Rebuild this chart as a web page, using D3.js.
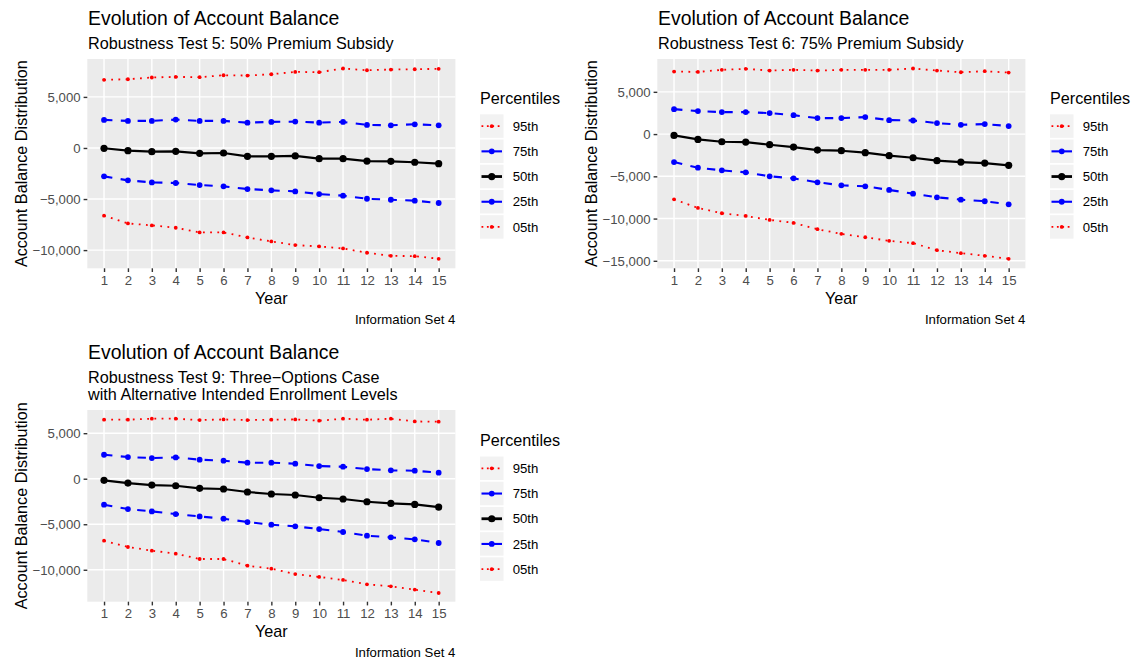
<!DOCTYPE html>
<html><head><meta charset="utf-8">
<script src="https://cdn.jsdelivr.net/npm/d3@7/dist/d3.min.js"></script>
<style>
body{margin:0;background:#fff}
svg{display:block}
text{font-family:"Liberation Sans",Arial,Helvetica,sans-serif}
</style>
</head><body>
<svg id="chart" width="1133" height="663"></svg>
<script>
// ---------------- data ----------------
const years = [1,2,3,4,5,6,7,8,9,10,11,12,13,14,15];
const percentiles = ["95th","75th","50th","25th","05th"];

const titleText = "Evolution of Account Balance";
const subtitles = [
  ["Robustness Test 5: 50% Premium Subsidy"],
  ["Robustness Test 6: 75% Premium Subsidy"],
  ["Robustness Test 9: Three\u2212Options Case", "with Alternative Intended Enrollment Levels"]
];
const captionText = "Information Set 4";
const xAxisTitle = "Year";
const yAxisTitle = "Account Balance Distribution";

// Robustness Test 5
const t5_p95 = [6670,6730,6900,6960,6930,7120,7090,7220,7450,7420,7780,7610,7680,7710,7750];
const t5_p75 = [2750,2650,2650,2780,2650,2650,2480,2550,2580,2480,2550,2260,2220,2320,2220];
const t5_p50 = [-30,-260,-360,-330,-520,-490,-820,-820,-780,-1050,-1050,-1280,-1310,-1400,-1540];
const t5_p25 = [-2780,-3170,-3370,-3430,-3630,-3760,-4020,-4150,-4250,-4510,-4670,-4970,-5070,-5160,-5390];
const t5_p05 = [-6630,-7390,-7580,-7810,-8270,-8270,-8760,-9150,-9510,-9640,-9840,-10260,-10560,-10590,-10850];

// Robustness Test 6
const t6_p95 = [7400,7360,7600,7720,7520,7600,7520,7600,7600,7600,7760,7520,7320,7440,7280];
const t6_p75 = [2950,2720,2600,2600,2480,2240,1890,1890,2010,1650,1610,1300,1100,1180,950];
const t6_p50 = [-160,-630,-910,-950,-1260,-1540,-1890,-1970,-2200,-2560,-2800,-3150,-3310,-3430,-3700];
const t6_p25 = [-3310,-3980,-4290,-4530,-5000,-5240,-5710,-6060,-6180,-6610,-7050,-7480,-7760,-7950,-8310];
const t6_p05 = [-7720,-8740,-9370,-9690,-10160,-10510,-11260,-11810,-12210,-12640,-12910,-13740,-14090,-14410,-14760];

// Robustness Test 9
const t9_p95 = [6480,6480,6590,6590,6440,6510,6440,6480,6510,6370,6590,6480,6590,6290,6260];
const t9_p75 = [2630,2380,2270,2340,2090,1980,1760,1760,1650,1390,1320,1060,920,880,660];
const t9_p50 = [-180,-480,-700,-770,-1060,-1130,-1460,-1680,-1790,-2090,-2230,-2530,-2710,-2820,-3110];
const t9_p25 = [-2850,-3330,-3590,-3880,-4140,-4390,-4760,-5050,-5230,-5530,-5850,-6260,-6440,-6660,-7060];
const t9_p05 = [-6810,-7500,-7900,-8230,-8820,-8820,-9550,-9880,-10470,-10790,-11120,-11600,-11820,-12180,-12550];

// ---------------- styles ----------------
const seriesStyle = {
  "95th": {color:"#FF0000", width:1.8, dash:"1.8,5.4", r:1.9},
  "75th": {color:"#0000FF", width:2.1, dash:"8.4,8.4", r:2.9},
  "50th": {color:"#000000", width:2.2, dash:null, r:3.6},
  "25th": {color:"#0000FF", width:2.1, dash:"8.4,8.4", r:2.9},
  "05th": {color:"#FF0000", width:1.8, dash:"1.8,5.4", r:1.9}
};
const FS_TITLE = 19.4, FS_MED = 16.2, FS_SMALL = 13.2;

const panels = [
  {series:[t5_p95,t5_p75,t5_p50,t5_p25,t5_p05], sub:subtitles[0],
   left:87.3, right:455.4, top:59, bottom:268.3, titleY:25, subY:[49]},
  {series:[t6_p95,t6_p75,t6_p50,t6_p25,t6_p05], sub:subtitles[1],
   left:657.3, right:1025.4, top:59, bottom:268.3, titleY:25, subY:[49]},
  {series:[t9_p95,t9_p75,t9_p50,t9_p25,t9_p05], sub:subtitles[2],
   left:87.3, right:455.4, top:410, bottom:601.7, titleY:358.5, subY:[382.5,400]}
];

const svg = d3.select("#chart");
const fmt = v => d3.format(",")(v).replace("-", "\u2212");

panels.forEach(p => {
  const g = svg.append("g");
  const all = p.series.flat();
  const mn = d3.min(all), mx = d3.max(all), ex = (mx - mn) * 0.05;
  const x = d3.scaleLinear().domain([1 - 0.7, 15 + 0.7]).range([p.left, p.right]);
  const y = d3.scaleLinear().domain([mn - ex, mx + ex]).range([p.bottom, p.top]);
  const yTicks = d3.range(Math.ceil((mn - ex) / 5000) * 5000, mx + ex, 5000);

  g.append("rect").attr("x", p.left).attr("y", p.top)
    .attr("width", p.right - p.left).attr("height", p.bottom - p.top).attr("fill", "#EBEBEB");

  g.selectAll(".gy").data(yTicks).enter().append("line")
    .attr("x1", p.left).attr("x2", p.right).attr("y1", d => y(d)).attr("y2", d => y(d))
    .attr("stroke", "#fff").attr("stroke-width", 1.4);
  g.selectAll(".gx").data(years).enter().append("line")
    .attr("y1", p.top).attr("y2", p.bottom).attr("x1", d => x(d)).attr("x2", d => x(d))
    .attr("stroke", "#fff").attr("stroke-width", 1.4);

  const yAxis = d3.axisLeft(y).tickValues(yTicks).tickFormat(fmt).tickSize(3.7).tickPadding(3);
  const ya = g.append("g").attr("transform", `translate(${p.left},0)`).call(yAxis);
  const xAxis = d3.axisBottom(x).tickValues(years).tickFormat(d3.format("d")).tickSize(3.7).tickPadding(3);
  const xa = g.append("g").attr("transform", `translate(0,${p.bottom})`).call(xAxis);
  [ya, xa].forEach(a => {
    a.select(".domain").remove();
    a.selectAll(".tick line").attr("stroke", "#333333").attr("stroke-width", 1.4);
    a.selectAll(".tick text").attr("fill", "#4D4D4D").attr("font-size", FS_SMALL)
      .style("font-family", '"Liberation Sans",Arial,sans-serif');
  });
  ya.selectAll(".tick text").attr("dy", null).attr("dominant-baseline", null).attr("y", 4.6);
  xa.selectAll(".tick text").attr("dy", null).attr("y", 16.3);

  const line = d3.line().x((d, i) => x(years[i])).y(d => y(d));
  p.series.forEach((s, k) => {
    const st = seriesStyle[percentiles[k]];
    g.append("path").attr("d", line(s)).attr("fill", "none")
      .attr("stroke", st.color).attr("stroke-width", st.width)
      .attr("stroke-dasharray", st.dash).attr("stroke-linejoin", "round");
  });
  p.series.forEach((s, k) => {
    const st = seriesStyle[percentiles[k]];
    g.selectAll(null).data(s).enter().append("circle")
      .attr("cx", (d, i) => x(years[i])).attr("cy", d => y(d)).attr("r", st.r).attr("fill", st.color);
  });

  g.append("text").attr("x", p.left + 0.7).attr("y", p.titleY).attr("font-size", FS_TITLE).attr("fill", "#000").text(titleText);
  p.sub.forEach((t, i) => g.append("text").attr("x", p.left + 0.7).attr("y", p.subY[i])
    .attr("font-size", FS_MED).attr("fill", "#000").text(t));

  g.append("text").attr("x", (p.left + p.right) / 2).attr("y", p.bottom + 35.5)
    .attr("text-anchor", "middle").attr("font-size", FS_MED).text(xAxisTitle);
  const cy = (p.top + p.bottom) / 2;
  g.append("text").attr("transform", `translate(${p.left - 60},${cy}) rotate(-90)`)
    .attr("text-anchor", "middle").attr("font-size", FS_MED).text(yAxisTitle);
  g.append("text").attr("x", p.right).attr("y", p.bottom + 55.5)
    .attr("text-anchor", "end").attr("font-size", FS_SMALL).text(captionText);

  const lx = p.right + 24.6;
  g.append("text").attr("x", lx).attr("y", cy - 60).attr("font-size", FS_MED).text("Percentiles");
  percentiles.forEach((name, i) => {
    const st = seriesStyle[name];
    const kc = cy - 37.5 + i * 25.2;
    g.append("rect").attr("x", lx).attr("y", kc - 11.8).attr("width", 23.5).attr("height", 23.5).attr("fill", "#F2F2F2");
    g.append("line").attr("x1", lx + 1.5).attr("x2", lx + 22).attr("y1", kc).attr("y2", kc)
      .attr("stroke", st.color).attr("stroke-width", name === "50th" ? 2.8 : st.width)
      .attr("stroke-dasharray", name === "95th" || name === "05th" ? "1.8,3.6" : null);
    g.append("circle").attr("cx", lx + 11.75).attr("cy", kc).attr("r", st.r).attr("fill", st.color);
    g.append("text").attr("x", lx + 32.7).attr("y", kc + 4.7).attr("font-size", FS_SMALL).text(name);
  });
});
</script>
</body></html>
